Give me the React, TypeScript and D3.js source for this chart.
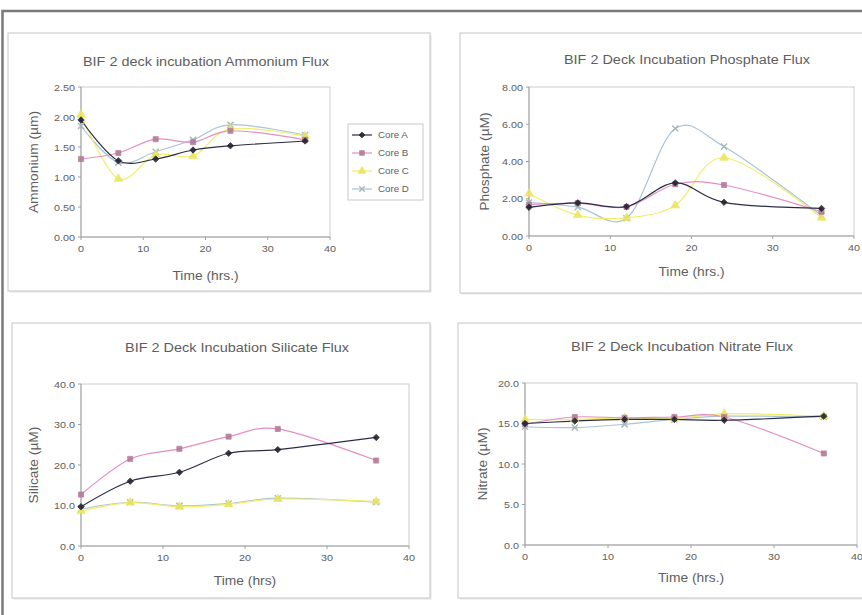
import React from "react";
import * as d3 from "d3";

const timeHrs = [0, 6, 12, 18, 24, 36];
const coreNames = ["Core A", "Core B", "Core C", "Core D"];

const ammoniumA = [1.95, 1.27, 1.30, 1.45, 1.52, 1.60];
const ammoniumB = [1.30, 1.40, 1.63, 1.58, 1.77, 1.62];
const ammoniumC = [2.04, 0.97, 1.37, 1.35, 1.80, 1.68];
const ammoniumD = [1.85, 1.24, 1.42, 1.62, 1.87, 1.70];

const phosphateA = [1.54, 1.78, 1.58, 2.85, 1.81, 1.48];
const phosphateB = [1.68, 1.76, 1.56, 2.78, 2.74, 1.30];
const phosphateC = [2.28, 1.12, 0.98, 1.64, 4.20, 0.98];
const phosphateD = [1.80, 1.55, 0.95, 5.77, 4.80, 1.10];

const silicateA = [9.7, 16.0, 18.2, 22.9, 23.8, 26.8];
const silicateB = [12.7, 21.5, 24.0, 27.0, 28.9, 21.1];
const silicateC = [8.6, 10.7, 9.7, 10.3, 11.6, 11.0];
const silicateD = [9.1, 10.8, 9.9, 10.5, 11.8, 10.8];

const nitrateA = [15.0, 15.3, 15.5, 15.5, 15.4, 15.9];
const nitrateB = [14.9, 15.8, 15.7, 15.8, 15.8, 11.3];
const nitrateC = [15.5, 15.5, 15.7, 15.6, 16.2, 15.9];
const nitrateD = [14.6, 14.5, 14.9, 15.5, 15.9, 15.8];

const xTicks = [0, 10, 20, 30, 40];
const ammoniumTicks = [0, 0.5, 1.0, 1.5, 2.0, 2.5];
const phosphateTicks = [0, 2, 4, 6, 8];
const silicateTicks = [0, 10, 20, 30, 40];
const nitrateTicks = [0, 5, 10, 15, 20];

const lineColors = ["#2c2c46", "#e28fc4", "#f2ee6a", "#a9c3d6"];
const markerFill = ["#22222e", "#b27a98", "#ece65e", "#a2b2b8"];
const markerTypes = [d3.symbolDiamond2, d3.symbolSquare, d3.symbolTriangle, d3.symbolX];

const FONT = "'Liberation Sans', Arial, sans-serif";
const TXT = "#5e5e5e";

type Panel = {
  title: string;
  ylabel: string;
  xlabel: string;
  series: number[][];
  yTicks: number[];
  fmt: string;
  box: { x: number; y: number; w: number; h: number };
  plot: { l: number; t: number; r: number; b: number };
  titleY: number;
  titleX: number;
  ylabelX: number;
  xlabelY: number;
  titleLen: number;
};

const panels: Panel[] = [
  {
    title: "BIF 2 deck incubation Ammonium Flux",
    ylabel: "Ammonium (µm)",
    xlabel: "Time (hrs.)",
    series: [ammoniumA, ammoniumB, ammoniumC, ammoniumD],
    yTicks: ammoniumTicks,
    fmt: ".2f",
    box: { x: 8, y: 33, w: 422, h: 258 },
    plot: { l: 81, t: 87, r: 330, b: 237 },
    titleY: 66,
    titleX: 206,
    ylabelX: 38,
    xlabelY: 280,
    titleLen: 246,
  },
  {
    title: "BIF 2 Deck Incubation Phosphate Flux",
    ylabel: "Phosphate (µM)",
    xlabel: "Time (hrs.)",
    series: [phosphateA, phosphateB, phosphateC, phosphateD],
    yTicks: phosphateTicks,
    fmt: ".2f",
    box: { x: 460, y: 33, w: 420, h: 260 },
    plot: { l: 529, t: 87, r: 854, b: 236 },
    titleY: 64,
    titleX: 687,
    ylabelX: 489,
    xlabelY: 276,
    titleLen: 246,
  },
  {
    title: "BIF 2 Deck Incubation Silicate Flux",
    ylabel: "Silicate (µM)",
    xlabel: "Time (hrs)",
    series: [silicateA, silicateB, silicateC, silicateD],
    yTicks: silicateTicks,
    fmt: ".1f",
    box: { x: 12, y: 323, w: 418, h: 275 },
    plot: { l: 81, t: 384, r: 409, b: 546 },
    titleY: 352,
    titleX: 237,
    ylabelX: 38,
    xlabelY: 585,
    titleLen: 224,
  },
  {
    title: "BIF 2 Deck Incubation Nitrate Flux",
    ylabel: "Nitrate (µM)",
    xlabel: "Time (hrs.)",
    series: [nitrateA, nitrateB, nitrateC, nitrateD],
    yTicks: nitrateTicks,
    fmt: ".1f",
    box: { x: 458, y: 323, w: 420, h: 275 },
    plot: { l: 525, t: 383, r: 857, b: 545 },
    titleY: 351,
    titleX: 682,
    ylabelX: 487,
    xlabelY: 582,
    titleLen: 222,
  },
];

function Marker({ i, x, y, size = 26 }: { i: number; x: number; y: number; size?: number }) {
  const path = d3.symbol().type(markerTypes[i]).size(i === 2 ? size * 1.2 : size)() as string;
  const isX = i === 3;
  return (
    <path
      d={path}
      transform={`translate(${x},${y})`}
      fill={isX ? "none" : markerFill[i]}
      stroke={markerFill[i]}
      strokeWidth={isX ? 1.5 : 0.8}
      opacity={0.9}
    />
  );
}

function ChartPanel({ p, legend }: { p: Panel; legend?: boolean }) {
  const x = d3.scaleLinear().domain([0, 40]).range([p.plot.l, p.plot.r]);
  const yMax = p.yTicks[p.yTicks.length - 1];
  const y = d3.scaleLinear().domain([0, yMax]).range([p.plot.b, p.plot.t]);
  const line = d3
    .line<number>()
    .x((_, k) => x(timeHrs[k]))
    .y((v) => y(v))
    .curve(d3.curveCatmullRom.alpha(0.1));
  const fmt = d3.format(p.fmt);
  const cx = (p.plot.l + p.plot.r) / 2;
  const cy = (p.plot.t + p.plot.b) / 2;
  return (
    <g>
      <rect x={p.box.x + 1.5} y={p.box.y + 1.5} width={p.box.w} height={p.box.h} fill="#e6e6e6" />
      <rect x={p.box.x} y={p.box.y} width={p.box.w} height={p.box.h} fill="#fff" stroke="#cfcfcf" strokeWidth={1.2} />
      <text
        x={p.titleX}
        y={p.titleY}
        textAnchor="middle"
        fontFamily={FONT}
        fontSize={12}
        fill={TXT}
        textLength={p.titleLen}
        lengthAdjust="spacingAndGlyphs"
      >
        {p.title}
      </text>
      <rect x={p.plot.l} y={p.plot.t} width={p.plot.r - p.plot.l} height={p.plot.b - p.plot.t} fill="#fff" stroke="#cdcdcd" strokeWidth={1} />
      <line x1={p.plot.l} x2={p.plot.l} y1={p.plot.t} y2={p.plot.b} stroke="#a0a0a0" />
      <line x1={p.plot.l} x2={p.plot.r} y1={p.plot.b} y2={p.plot.b} stroke="#a0a0a0" />
      {p.yTicks.map((t) => (
        <g key={"y" + t}>
          <line x1={p.plot.l - 3} x2={p.plot.l} y1={y(t)} y2={y(t)} stroke="#a0a0a0" />
          <text
            transform={`translate(${p.plot.l - 6},${y(t) + 3.5}) scale(1.2,1)`}
            textAnchor="end"
            fontFamily={FONT}
            fontSize={9}
            fill={TXT}
          >
            {fmt(t)}
          </text>
        </g>
      ))}
      {xTicks.map((t) => (
        <g key={"x" + t}>
          <line x1={x(t)} x2={x(t)} y1={p.plot.b} y2={p.plot.b + 3} stroke="#a0a0a0" />
          <text
            transform={`translate(${x(t)},${p.plot.b + 15}) scale(1.2,1)`}
            textAnchor="middle"
            fontFamily={FONT}
            fontSize={9}
            fill={TXT}
          >
            {t}
          </text>
        </g>
      ))}
      <text
        transform={`translate(${cx},${p.xlabelY}) scale(1.15,1)`}
        textAnchor="middle"
        fontFamily={FONT}
        fontSize={12}
        fill={TXT}
      >
        {p.xlabel}
      </text>
      <text
        transform={`translate(${p.ylabelX},${cy}) rotate(-90) scale(1.15,1)`}
        textAnchor="middle"
        fontFamily={FONT}
        fontSize={12}
        fill={TXT}
      >
        {p.ylabel}
      </text>
      {[3, 2, 1, 0].map((i) => (
        <path key={"l" + i} d={line(p.series[i]) as string} fill="none" stroke={lineColors[i]} strokeWidth={1.2} />
      ))}
      {[3, 2, 1, 0].map((i) =>
        p.series[i].map((v, k) => <Marker key={"m" + i + "-" + k} i={i} x={x(timeHrs[k])} y={y(v)} />)
      )}
      {legend && (
        <g>
          <rect x={348} y={124} width={75} height={76} fill="#fff" stroke="#c8c8c8" />
          {coreNames.map((n, i) => {
            const ly = 135 + i * 18;
            return (
              <g key={n}>
                <line x1={352} x2={372} y1={ly} y2={ly} stroke={lineColors[i]} strokeWidth={1.2} />
                <Marker i={i} x={362} y={ly} size={22} />
                <text
                  transform={`translate(${378},${ly + 3}) scale(1.15,1)`}
                  fontFamily={FONT}
                  fontSize={8.5}
                  fill={TXT}
                >
                  {n}
                </text>
              </g>
            );
          })}
        </g>
      )}
    </g>
  );
}

export default function App() {
  return (
    <svg
      width={862}
      height={615}
      style={{ position: "absolute", left: 0, top: 0, background: "#fff" }}
    >
      <rect x={0} y={0} width={862} height={615} fill="#fff" />
      <rect x={2.5} y={11} width={880} height={620} fill="#fff" stroke="#7a7a7a" strokeWidth={2.5} />
      {panels.map((p, i) => (
        <ChartPanel key={i} p={p} legend={i === 0} />
      ))}
    </svg>
  );
}
